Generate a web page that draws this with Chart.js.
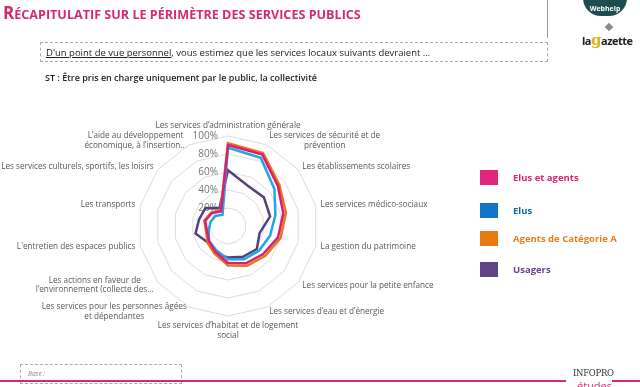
<!DOCTYPE html>
<html lang="fr">
<head>
<meta charset="utf-8">
<script src="https://cdn.jsdelivr.net/npm/chart.js@4.4.0/dist/chart.umd.min.js"></script>
<style>
body { margin:0; width:640px; height:387px; overflow:hidden; background:#fff; position:relative; font-family:'Open Sans', sans-serif; }
#radar { position:absolute; left:0; top:0; }
.titre { position:absolute; left:3px; top:1px; color:#d42a72; font-weight:bold; font-size:12.6px; white-space:nowrap; }
.titre span { font-size:17px; }
.trait { position:absolute; left:547px; top:0; width:1px; height:38px; background:#9a9a9a; }
.webhelp { position:absolute; left:583px; top:-6px; width:44px; height:22px; background:#1e4d4f; border-radius:0 0 18px 18px; color:#fff; font-size:7px; font-weight:bold; text-align:center; line-height:29px; }
.losange { position:absolute; left:606px; top:24px; width:6px; height:6px; background:#8a8a8a; transform:rotate(45deg); }
.gazette { position:absolute; left:582px; top:31px; font-size:11px; font-weight:bold; color:#222; letter-spacing:-0.5px; }
.gazette b { font-size:15px; color:#e2b21a; font-family:'DejaVu Serif', serif; }
.question { position:absolute; left:40px; top:42px; width:508px; height:20px; border:1px dashed #aaa; font-size:9.5px; color:#222; line-height:20px; padding-left:5px; box-sizing:border-box; }
.question u { text-decoration:underline; }
.st { position:absolute; left:45px; top:71px; font-size:9px; font-weight:600; color:#222; }
.legende { position:absolute; left:480px; font-size:9.5px; font-weight:bold; }
.legende i { position:absolute; left:0; top:0; width:18px; height:15px; }
.legende span { position:absolute; left:33px; top:0; line-height:15px; white-space:nowrap; }
.base { position:absolute; left:20px; top:364px; width:162px; height:20px; border:1px dashed #aaa; box-sizing:border-box; font-size:6.5px; color:#888; font-style:italic; padding:4px 0 0 7px; }
.ligne { position:absolute; top:380px; height:2px; background:#d42a72; }
.infopro { position:absolute; left:573px; top:368px; font-size:8.5px; color:#333; font-family:'DejaVu Serif', serif; letter-spacing:-0.3px; }
.etudes { position:absolute; left:577px; top:378px; font-size:11px; color:#d42a72; }
</style>
</head>
<body>
<canvas id="radar" width="640" height="387"></canvas>

<div class="titre"><span>R</span>ÉCAPITULATIF SUR LE PÉRIMÈTRE DES SERVICES PUBLICS</div>
<div class="trait"></div>
<div class="webhelp">Webhelp</div>
<div class="losange"></div>
<div class="gazette">la<b>g</b>azette</div>

<div class="question"><u>D'un point de vue personnel</u>, vous estimez que les services locaux suivants devraient …</div>
<div class="st">ST : Être pris en charge uniquement par le public, la collectivité</div>

<div class="legende" style="top:170px;color:#d8236f"><i style="background:#e2247a"></i><span>Elus et agents</span></div>
<div class="legende" style="top:203px;color:#0e67ad"><i style="background:#1073c6"></i><span>Elus</span></div>
<div class="legende" style="top:231px;color:#e5801a"><i style="background:#e87a12"></i><span>Agents de Catégorie A</span></div>
<div class="legende" style="top:262px;color:#6a3f8c"><i style="background:#5e4585"></i><span>Usagers</span></div>

<div class="base">Base :</div>
<div class="ligne" style="left:0;width:566px"></div>
<div class="ligne" style="left:612px;width:28px"></div>
<div class="infopro">INFOPRO</div>
<div class="etudes">études</div>

<script>
// Les 14 services (axes du radar)
var services = [
    "Les services d’administration générale",
    ["Les services de sécurité et de", "prévention"],
    "Les établissements scolaires",
    "Les services médico-sociaux",
    "La gestion du patrimoine",
    "Les services pour la petite enfance",
    "Les services d’eau et d’énergie",
    ["Les services d’habitat et de logement", "social"],
    ["Les services pour les personnes âgées", "et dépendantes"],
    ["Les actions en faveur de", "l’environnement (collecte des..."],
    "L'entretien des espaces publics",
    "Les transports",
    "Les services culturels, sportifs, les loisirs",
    ["L’aide au développement", "économique, à l’insertion..."]
];

// % "uniquement par le public"
var elusEtAgents = [90, 88, 71, 63, 57, 50, 46, 41, 32, 27, 24, 26, 23, 18];
var elus         = [87, 84, 66, 54, 48, 44, 41, 37, 30, 27, 22, 20, 18, 14];
var agentsCatA   = [92, 90, 73, 66, 60, 53, 49, 44, 34, 29, 25, 27, 24, 19];
var usagers      = [62, 50, 51, 48, 36, 41, 38, 35, 34, 29, 37, 33, 32, 22];

var graduations = [20, 40, 60, 80, 100];

// centre et rayon du radar comme sur l'original
var centreX = 228, centreY = 226, rayon = 90;

// Etiquettes de l'echelle, a gauche de l'axe vertical
var echellePlugin = {
    id: 'echelle',
    beforeDatasetsDraw: function(chart) {
        var r = chart.scales.r;
        var ctx = chart.ctx;
        ctx.save();
        ctx.font = '10px "Open Sans"';
        ctx.fillStyle = '#767676';
        ctx.textAlign = 'right';
        ctx.textBaseline = 'middle';
        graduations.forEach(function(v) {
            ctx.fillText(v + '%', r.xCenter - 10, r.yCenter - r.getDistanceFromCenterForValue(v));
        });
        ctx.restore();
    }
};

var ctx = document.getElementById('radar').getContext('2d');

var radarChart = new Chart(ctx, {
    type: 'radar',
    data: {
        labels: services,
        datasets: [
            { label: 'Elus et agents', data: elusEtAgents, borderColor: '#d81f76' },
            { label: 'Elus', data: elus, borderColor: '#25a6e0' },
            { label: 'Agents de Catégorie A', data: agentsCatA, borderColor: '#e8761a' },
            { label: 'Usagers', data: usagers, borderColor: '#55407f' }
        ]
    },
    options: {
        responsive: false,
        animation: false,
        layout: { padding: 0 },
        elements: {
            line: { borderWidth: 2.5, fill: false, tension: 0 },
            point: { radius: 0, hoverRadius: 0 }
        },
        plugins: {
            legend: { display: false },
            tooltip: { enabled: false }
        },
        scales: {
            r: {
                min: 0,
                max: 100,
                ticks: { display: false, stepSize: 20 },
                grid: { color: '#dcdcdc', lineWidth: 1 },
                angleLines: { display: false },
                pointLabels: {
                    color: '#595959',
                    padding: 5,
                    font: { family: 'Open Sans', size: 8.2 }
                },
                afterSetDimensions: function(scale) {
                    scale.xCenter = centreX;
                    scale.yCenter = centreY;
                    scale.drawingArea = rayon;
                },
                // on remet le rayon voulu et on place les etiquettes comme Excel :
                // centrees verticalement sur leur axe (sauf haut et bas), lignes centrees
                afterFit: function(scale) {
                    scale.xCenter = centreX;
                    scale.yCenter = centreY;
                    scale.drawingArea = rayon;
                    var items = scale._pointLabelItems || [];
                    var n = items.length;
                    items.forEach(function(item, i) {
                        var w = item.right - item.left;
                        var h = item.bottom - item.top;
                        var pos = scale.getPointPosition(i, rayon + 5);
                        var x, y;
                        if (i === 0 || i === n / 2) {
                            x = pos.x - w / 2;
                        } else if (i < n / 2) {
                            x = pos.x;
                        } else {
                            x = pos.x - w;
                        }
                        if (i === 0) {
                            y = pos.y - h;
                        } else if (i === n / 2) {
                            y = pos.y;
                        } else {
                            y = pos.y - h / 2;
                        }
                        item.left = x;
                        item.right = x + w;
                        item.top = y;
                        item.bottom = y + h;
                        item.x = x + w / 2;
                        item.y = y;
                        item.textAlign = 'center';
                    });
                }
            }
        }
    },
    plugins: [echellePlugin]
});
</script>
</body>
</html>
